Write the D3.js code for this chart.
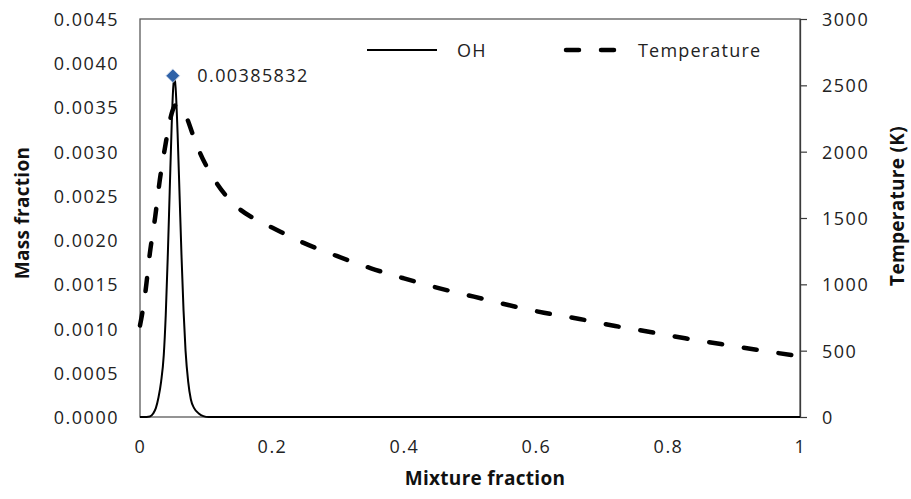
<!DOCTYPE html>
<html>
<head>
<meta charset="utf-8">
<script src="https://cdn.jsdelivr.net/npm/d3@7"></script>
<style>
  body { margin: 0; background: #fff; }
  text { font-family: "Open Sans", "Liberation Sans", sans-serif; fill: #222; }
  .tick text { font-size: 18px; letter-spacing: 1.5px; }
  .axis_title { font-size: 19px; font-weight: bold; fill: #111; letter-spacing: 0.3px; }
  .legend text { font-size: 18px; letter-spacing: 1.2px; }
</style>
</head>
<body>
<svg id="chart"></svg>
<script>
// mixture fraction / OH mass fraction
var zOH = [0, 0.010, 0.015, 0.020, 0.024, 0.028, 0.032, 0.036, 0.039, 0.042, 0.045, 0.048, 0.050, 0.052, 0.054, 0.057, 0.060, 0.063, 0.066, 0.069, 0.073, 0.077, 0.082, 0.089, 0.096, 0.104, 0.120, 1];
var ohVals = [0, 0, 0.000005, 0.00004, 0.0001, 0.00022, 0.0004, 0.0007, 0.00115, 0.0018, 0.00255, 0.0033, 0.00368, 0.00385832, 0.00372, 0.0032, 0.0025, 0.0018, 0.0012, 0.00075, 0.0004, 0.0002, 0.0001, 0.00004, 0.00001, 0, 0, 0];

// mixture fraction / temperature (K)
var zT = [0, 0.004, 0.008, 0.015, 0.023, 0.030, 0.038, 0.046, 0.052, 0.056, 0.062, 0.070, 0.080, 0.091, 0.103, 0.116, 0.130, 0.149, 0.175, 0.200, 0.247, 0.298, 0.350, 0.400, 0.454, 0.506, 0.558, 0.612, 0.666, 0.720, 0.773, 0.826, 0.880, 0.934, 0.987, 1];
var tVals = [690, 800, 935, 1236, 1508, 1786, 2035, 2250, 2340, 2355, 2330, 2265, 2130, 1990, 1870, 1764, 1670, 1575, 1490, 1428, 1314, 1214, 1121, 1045, 970, 907, 844, 786, 739, 686, 641, 593, 550, 507, 467, 458];

var peakZ = 0.052, peakOH = 0.00385832;

var xTicks = [0, 0.2, 0.4, 0.6, 0.8, 1];
var yTicksLeft = [0, 0.0005, 0.001, 0.0015, 0.002, 0.0025, 0.003, 0.0035, 0.004, 0.0045];
var yTicksRight = [0, 500, 1000, 1500, 2000, 2500, 3000];

var margin = {top: 19, right: 111, bottom: 82, left: 140},
    width = 911 - margin.left - margin.right,
    height = 499 - margin.top - margin.bottom;

var svg = d3.select("#chart")
    .attr("width", width + margin.left + margin.right)
    .attr("height", height + margin.top + margin.bottom)
  .append("g")
    .attr("transform", "translate(" + margin.left + "," + margin.top + ")");

var x = d3.scaleLinear().domain([0, 1]).range([0, width]);
var y = d3.scaleLinear().domain([0, 0.0045]).range([height, 0]);
var y2 = d3.scaleLinear().domain([0, 3000]).range([height, 0]);

// plot frame
svg.append("rect")
  .attr("x", 0).attr("y", 0)
  .attr("width", width).attr("height", height)
  .attr("fill", "none")
  .attr("stroke", "#5a5a5a")
  .attr("stroke-width", 1.3);

// X axis
var xa = svg.append("g")
  .attr("transform", "translate(0," + height + ")")
  .call(d3.axisBottom(x).tickValues(xTicks).tickFormat(function(d) { return d; }).tickSize(0).tickPadding(23));
xa.select(".domain").remove();

// left Y axis
var ya = svg.append("g")
  .call(d3.axisLeft(y).tickValues(yTicksLeft).tickFormat(d3.format(".4f")).tickSize(0).tickPadding(21));
ya.select(".domain").remove();

// right Y axis
var ya2 = svg.append("g")
  .attr("transform", "translate(" + width + ",0)")
  .call(d3.axisRight(y2).tickValues(yTicksRight).tickFormat(d3.format("d")).tickSize(7).tickSizeOuter(0).tickPadding(15));
ya2.select(".domain").attr("stroke", "#3a3a3a").attr("stroke-width", 1.3);
ya2.selectAll(".tick line").attr("stroke", "#3a3a3a").attr("stroke-width", 1.2);

svg.selectAll(".tick text").attr("dy", "0.36em");
xa.selectAll(".tick text").attr("dy", "0.71em");

// temperature (dashed)
var tData = zT.map(function(z, i) { return {z: z, v: tVals[i]}; });
svg.append("path")
  .datum(tData)
  .attr("fill", "none")
  .attr("stroke", "#000")
  .attr("stroke-width", 4.5)
  .attr("stroke-linecap", "round")
  .attr("stroke-dasharray", "13,22")
  .attr("d", d3.line().curve(d3.curveMonotoneX)
    .x(function(d) { return x(d.z); })
    .y(function(d) { return y2(d.v); }));

// OH (solid)
var ohData = zOH.map(function(z, i) { return {z: z, v: ohVals[i]}; });
svg.append("path")
  .datum(ohData)
  .attr("fill", "none")
  .attr("stroke", "#000")
  .attr("stroke-width", 2)
  .attr("d", d3.line().curve(d3.curveMonotoneX)
    .x(function(d) { return x(d.z); })
    .y(function(d) { return y(d.v); }));

// peak marker + label
svg.append("path")
  .attr("d", d3.symbol().type(d3.symbolDiamond2).size(120))
  .attr("transform", "translate(" + (x(peakZ) - 1.5) + "," + y(peakOH) + ")")
  .attr("fill", "#2f62a8")
  .attr("stroke", "#c9d6ea")
  .attr("stroke-width", 1);
svg.append("text")
  .attr("x", x(peakZ) + 23)
  .attr("y", y(peakOH) + 6.5)
  .style("font-size", "18px")
  .style("letter-spacing", "1.4px")
  .attr("fill", "#24344a")
  .text(peakOH);

// legend
var lg = svg.append("g").attr("class", "legend");
lg.append("line")
  .attr("x1", 227).attr("x2", 297).attr("y1", 31).attr("y2", 31)
  .attr("stroke", "#000").attr("stroke-width", 2);
lg.append("text").attr("x", 317).attr("y", 37.5).text("OH");
lg.append("line")
  .attr("x1", 426).attr("x2", 474).attr("y1", 31).attr("y2", 31)
  .attr("stroke", "#000").attr("stroke-width", 4.5)
  .attr("stroke-linecap", "round")
  .attr("stroke-dasharray", "13,22");
lg.append("text").attr("x", 498).attr("y", 37.5).text("Temperature");

// axis titles
svg.append("text")
  .attr("text-anchor", "middle")
  .attr("x", 345)
  .attr("y", 466)
  .text("Mixture fraction")
  .attr("class", "axis_title");
svg.append("text")
  .attr("text-anchor", "middle")
  .attr("transform", "translate(-111,194)rotate(-90)")
  .text("Mass fraction")
  .attr("class", "axis_title");
svg.append("text")
  .attr("text-anchor", "middle")
  .attr("transform", "translate(764,187)rotate(-90)")
  .text("Temperature (K)")
  .attr("class", "axis_title");
</script>
</body>
</html>
